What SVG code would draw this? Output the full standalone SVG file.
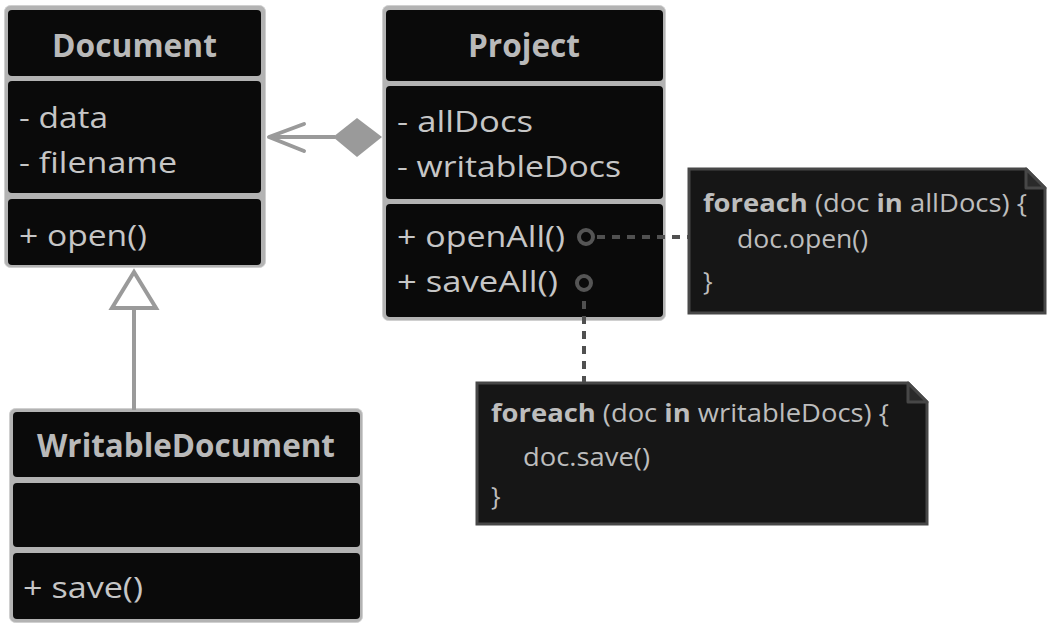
<svg xmlns="http://www.w3.org/2000/svg" width="1058" height="633" viewBox="0 0 1058 633">
<style>
.frame{fill:#b3b3b3;stroke:#d0d0d0;stroke-width:1}
.sec{fill:#0a0a0a}
.title{font-family:"Open Sans",sans-serif;font-weight:bold;font-size:32px;fill:#b9b9b9}
.mem{font-family:"Open Sans",sans-serif;font-size:30px;fill:#c6c6c6}
.note{fill:#161616;stroke:#474747;stroke-width:3}
.fold{fill:#2a2a2a;stroke:#474747;stroke-width:3;stroke-linejoin:round}
.code{font-family:"Open Sans",sans-serif;font-size:25.5px;fill:#bdbdbd}
.b{font-weight:bold}
.conn{stroke:#9a9a9a;stroke-width:4;fill:none}
.dash{stroke:#505050;stroke-width:4;fill:none;stroke-dasharray:8 7}
.port{fill:none;stroke:#555555;stroke-width:4}
</style>
<rect width="1058" height="633" fill="#ffffff"/>
<g id="Document">
<rect class="frame" x="4.5" y="5.5" width="261" height="262" rx="6"/>
<rect class="sec" x="8" y="10" width="253" height="66" rx="4"/>
<rect class="sec" x="8" y="81" width="253" height="112" rx="4"/>
<rect class="sec" x="8" y="199" width="253" height="66" rx="4"/>
<text class="title" x="52" y="57" textLength="165" lengthAdjust="spacingAndGlyphs">Document</text>
<text class="mem" x="19" y="128" textLength="89" lengthAdjust="spacingAndGlyphs">- data</text>
<text class="mem" x="19" y="173" textLength="158" lengthAdjust="spacingAndGlyphs">- filename</text>
<text class="mem" x="19" y="246" textLength="128" lengthAdjust="spacingAndGlyphs">+ open()</text>
</g>
<g id="Project">
<rect class="frame" x="382.5" y="5.5" width="283" height="315" rx="6"/>
<rect class="sec" x="386" y="10" width="277" height="71" rx="4"/>
<rect class="sec" x="386" y="86" width="277" height="113" rx="4"/>
<rect class="sec" x="386" y="204" width="277" height="113" rx="4"/>
<text class="title" x="468" y="57" textLength="112" lengthAdjust="spacingAndGlyphs">Project</text>
<text class="mem" x="397" y="132" textLength="136" lengthAdjust="spacingAndGlyphs">- allDocs</text>
<text class="mem" x="397" y="177" textLength="224" lengthAdjust="spacingAndGlyphs">- writableDocs</text>
<text class="mem" x="397" y="247" textLength="168" lengthAdjust="spacingAndGlyphs">+ openAll()</text>
<text class="mem" x="397" y="292" textLength="161" lengthAdjust="spacingAndGlyphs">+ saveAll()</text>
</g>
<g id="WritableDocument">
<rect class="frame" x="9.5" y="408.5" width="353" height="214" rx="6"/>
<rect class="sec" x="13" y="412" width="347" height="65" rx="4"/>
<rect class="sec" x="13" y="483" width="347" height="64" rx="4"/>
<rect class="sec" x="13" y="553" width="347" height="66" rx="4"/>
<text class="title" x="37" y="457" textLength="298" lengthAdjust="spacingAndGlyphs">WritableDocument</text>
<text class="mem" x="23" y="598" textLength="120" lengthAdjust="spacingAndGlyphs">+ save()</text>
</g>
<g id="note-openAll">
<path class="note" d="M689,169 H1026 L1045,188 V313 H689 Z"/>
<path class="fold" d="M1026,169 V188 H1045 Z"/>
<text class="code" x="703" y="212" textLength="324" lengthAdjust="spacingAndGlyphs"><tspan class="b">foreach</tspan> (doc <tspan class="b">in</tspan> allDocs) {</text>
<text class="code" x="737" y="248" textLength="131" lengthAdjust="spacingAndGlyphs">doc.open()</text>
<text class="code" x="703" y="290">}</text>
</g>
<g id="note-saveAll">
<path class="note" d="M477,383 H908 L927,402 V524 H477 Z"/>
<path class="fold" d="M908,383 V402 H927 Z"/>
<text class="code" x="491" y="422" textLength="398" lengthAdjust="spacingAndGlyphs"><tspan class="b">foreach</tspan> (doc <tspan class="b">in</tspan> writableDocs) {</text>
<text class="code" x="523" y="466" textLength="127" lengthAdjust="spacingAndGlyphs">doc.save()</text>
<text class="code" x="491" y="505">}</text>
</g>
<g id="connectors">
<line class="conn" x1="335" y1="137" x2="270" y2="137"/>
<polyline class="conn" points="304,124 269,137 304,151" stroke-linecap="round" stroke-linejoin="round"/>
<polygon points="333,137 357,118 382,137 357,157" fill="#9a9a9a"/>
<line class="conn" x1="134" y1="308" x2="134" y2="410"/>
<polygon points="134,272 156,308 112,308" fill="#ffffff" stroke="#9a9a9a" stroke-width="4" stroke-linejoin="miter"/>
<line class="dash" x1="597" y1="237" x2="688" y2="237"/>
<line class="dash" x1="584" y1="301" x2="584" y2="382"/>
<circle class="port" cx="586" cy="237" r="7"/>
<circle class="port" cx="584" cy="283" r="7"/>
</g>
</svg>
